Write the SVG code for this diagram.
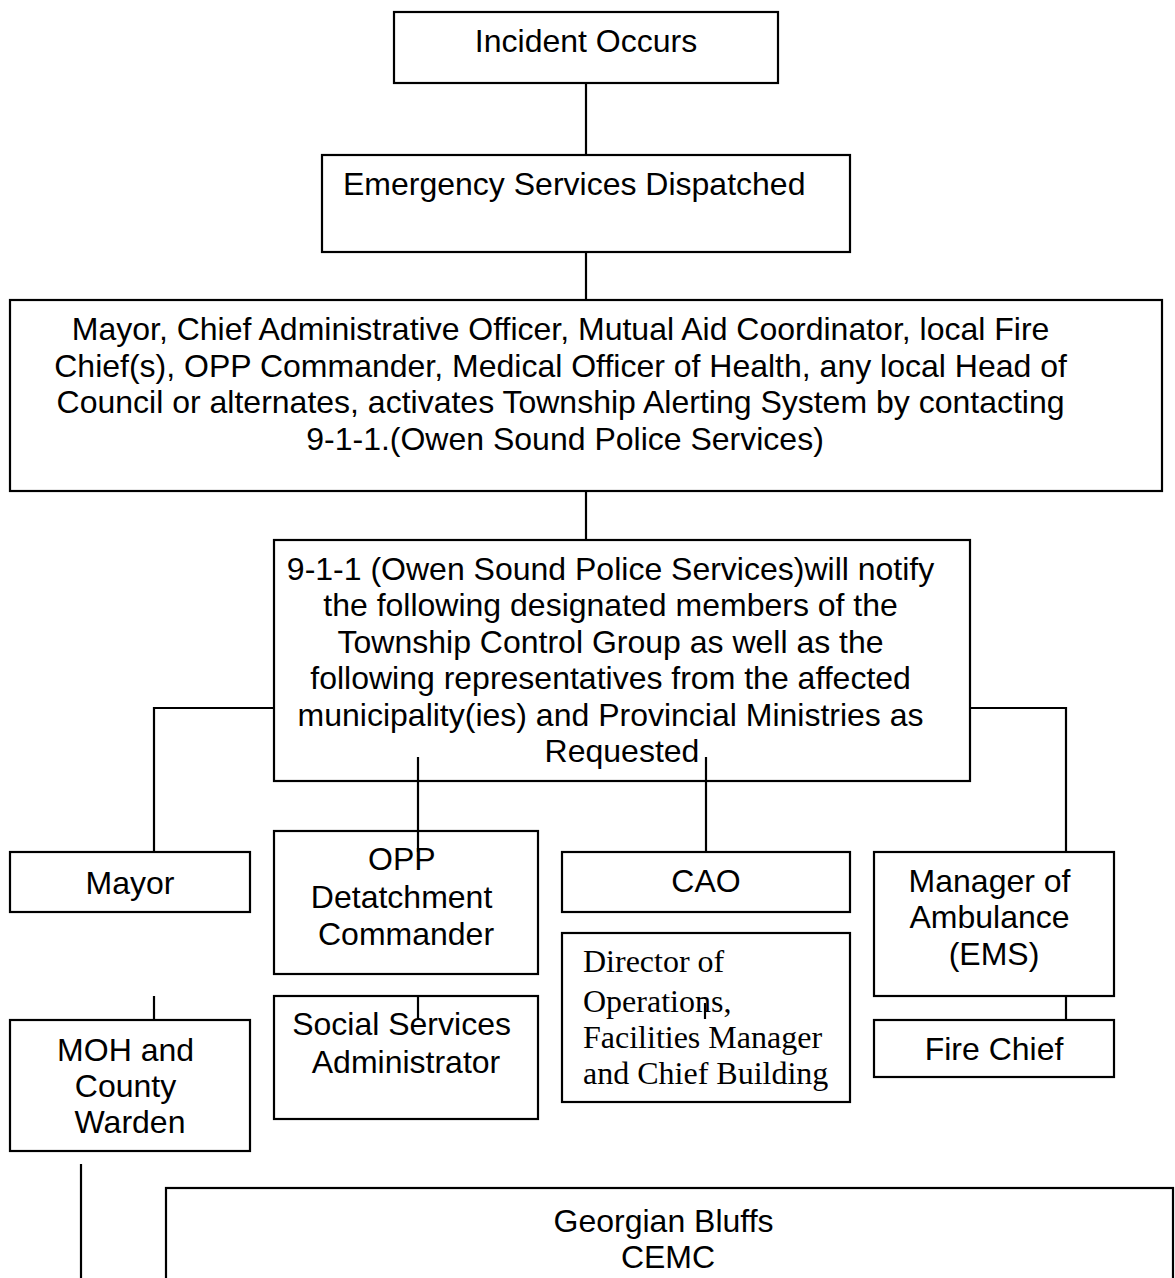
<svg xmlns="http://www.w3.org/2000/svg" width="1175" height="1278" viewBox="0 0 1175 1278">
<style>
  .box { fill: #ffffff; stroke: #000000; stroke-width: 2.2; }
  .ln { fill: none; stroke: #000000; stroke-width: 2.2; }
  .t { font-family: "Liberation Sans", Arial, sans-serif; font-size: 32px; fill: #000000; }
  .c { text-anchor: middle; }
  .s { font-family: "Liberation Serif", "Times New Roman", serif; font-size: 32px; fill: #000000; }
</style>
<rect width="1175" height="1278" fill="#ffffff"/>
<g id="connectors">
  <line class="ln" x1="586" y1="83" x2="586" y2="155"/>
  <line class="ln" x1="586" y1="252" x2="586" y2="300"/>
  <line class="ln" x1="586" y1="491" x2="586" y2="540"/>
  <polyline class="ln" points="274,708 154,708 154,852"/>
  <polyline class="ln" points="970,708 1066,708 1066,852"/>
  <line class="ln" x1="1066" y1="996" x2="1066" y2="1020"/>
  <line class="ln" x1="154" y1="996" x2="154" y2="1020"/>
  <line class="ln" x1="81" y1="1164" x2="81" y2="1278"/>
</g>
<g id="incident">
  <rect class="box" x="394" y="12" width="384" height="71"/>
  <text class="t c" x="586" y="52">Incident Occurs</text>
</g>
<g id="dispatched">
  <rect class="box" x="322" y="155" width="528" height="97"/>
  <text class="t" x="343" y="195">Emergency Services Dispatched</text>
</g>
<g id="activation">
  <rect class="box" x="10" y="300" width="1152" height="191"/>
  <text class="t c">
    <tspan x="565" y="340">Mayor, Chief Administrative Officer, Mutual Aid Coordinator, local Fire</tspan>
    <tspan x="565" y="376.7">Chief(s), OPP Commander, Medical Officer of Health, any local Head of</tspan>
    <tspan x="565" y="413.4">Council or alternates, activates Township Alerting System by contacting</tspan>
    <tspan x="565" y="450">9-1-1.(Owen Sound Police Services)</tspan>
  </text>
</g>
<g id="notify">
  <rect class="box" x="274" y="540" width="696" height="241"/>
  <text class="t c">
    <tspan x="615" y="580">9-1-1 (Owen Sound Police Services)will notify</tspan>
    <tspan x="615" y="616.4">the following designated members of the</tspan>
    <tspan x="615" y="652.8">Township Control Group as well as the</tspan>
    <tspan x="615" y="689.2">following representatives from the affected</tspan>
    <tspan x="615" y="725.6">municipality(ies) and Provincial Ministries as</tspan>
    <tspan x="622" y="762">Requested</tspan>
  </text>
</g>
<g id="mayor">
  <rect class="box" x="10" y="852" width="240" height="60"/>
  <text class="t c" x="130" y="894">Mayor</text>
</g>
<g id="opp">
  <rect class="box" x="274" y="831" width="264" height="143"/>
  <text class="t c">
    <tspan x="406" y="870">OPP</tspan>
    <tspan x="406" y="907.5">Detatchment</tspan>
    <tspan x="406" y="945">Commander</tspan>
  </text>
</g>
<g id="cao">
  <rect class="box" x="562" y="852" width="288" height="60"/>
  <text class="t c" x="706" y="892">CAO</text>
</g>
<g id="ambulance">
  <rect class="box" x="874" y="852" width="240" height="144"/>
  <text class="t c">
    <tspan x="994" y="891.7">Manager of</tspan>
    <tspan x="994" y="928.3">Ambulance</tspan>
    <tspan x="994" y="965">(EMS)</tspan>
  </text>
</g>
<g id="moh">
  <rect class="box" x="10" y="1020" width="240" height="131"/>
  <text class="t c">
    <tspan x="130" y="1061">MOH and</tspan>
    <tspan x="130" y="1097">County</tspan>
    <tspan x="130" y="1133.3">Warden</tspan>
  </text>
</g>
<g id="social">
  <rect class="box" x="274" y="996" width="264" height="123"/>
  <text class="t c">
    <tspan x="406" y="1035">Social Services</tspan>
    <tspan x="406" y="1073">Administrator</tspan>
  </text>
</g>
<g id="director">
  <rect class="box" x="562" y="933" width="288" height="169"/>
  <text class="s">
    <tspan x="583" y="971.7">Director of</tspan>
    <tspan x="583" y="1011.7">Operations,</tspan>
    <tspan x="583" y="1048.3">Facilities Manager</tspan>
    <tspan x="583" y="1084">and Chief Building</tspan>
  </text>
</g>
<g id="firechief">
  <rect class="box" x="874" y="1020" width="240" height="57"/>
  <text class="t c" x="994" y="1060">Fire Chief</text>
</g>
<g id="cemc">
  <rect class="box" x="166" y="1188" width="1007" height="120"/>
  <text class="t c">
    <tspan x="668" y="1232">Georgian Bluffs</tspan>
    <tspan x="668" y="1268">CEMC</tspan>
  </text>
</g>
<g id="stray-connectors">
  <line class="ln" x1="418" y1="757" x2="418" y2="852"/>
  <line class="ln" x1="706" y1="757" x2="706" y2="852"/>
  <line class="ln" x1="418" y1="996" x2="418" y2="1019"/>
  <line class="ln" x1="705" y1="1003" x2="705" y2="1019"/>
</g>
</svg>
